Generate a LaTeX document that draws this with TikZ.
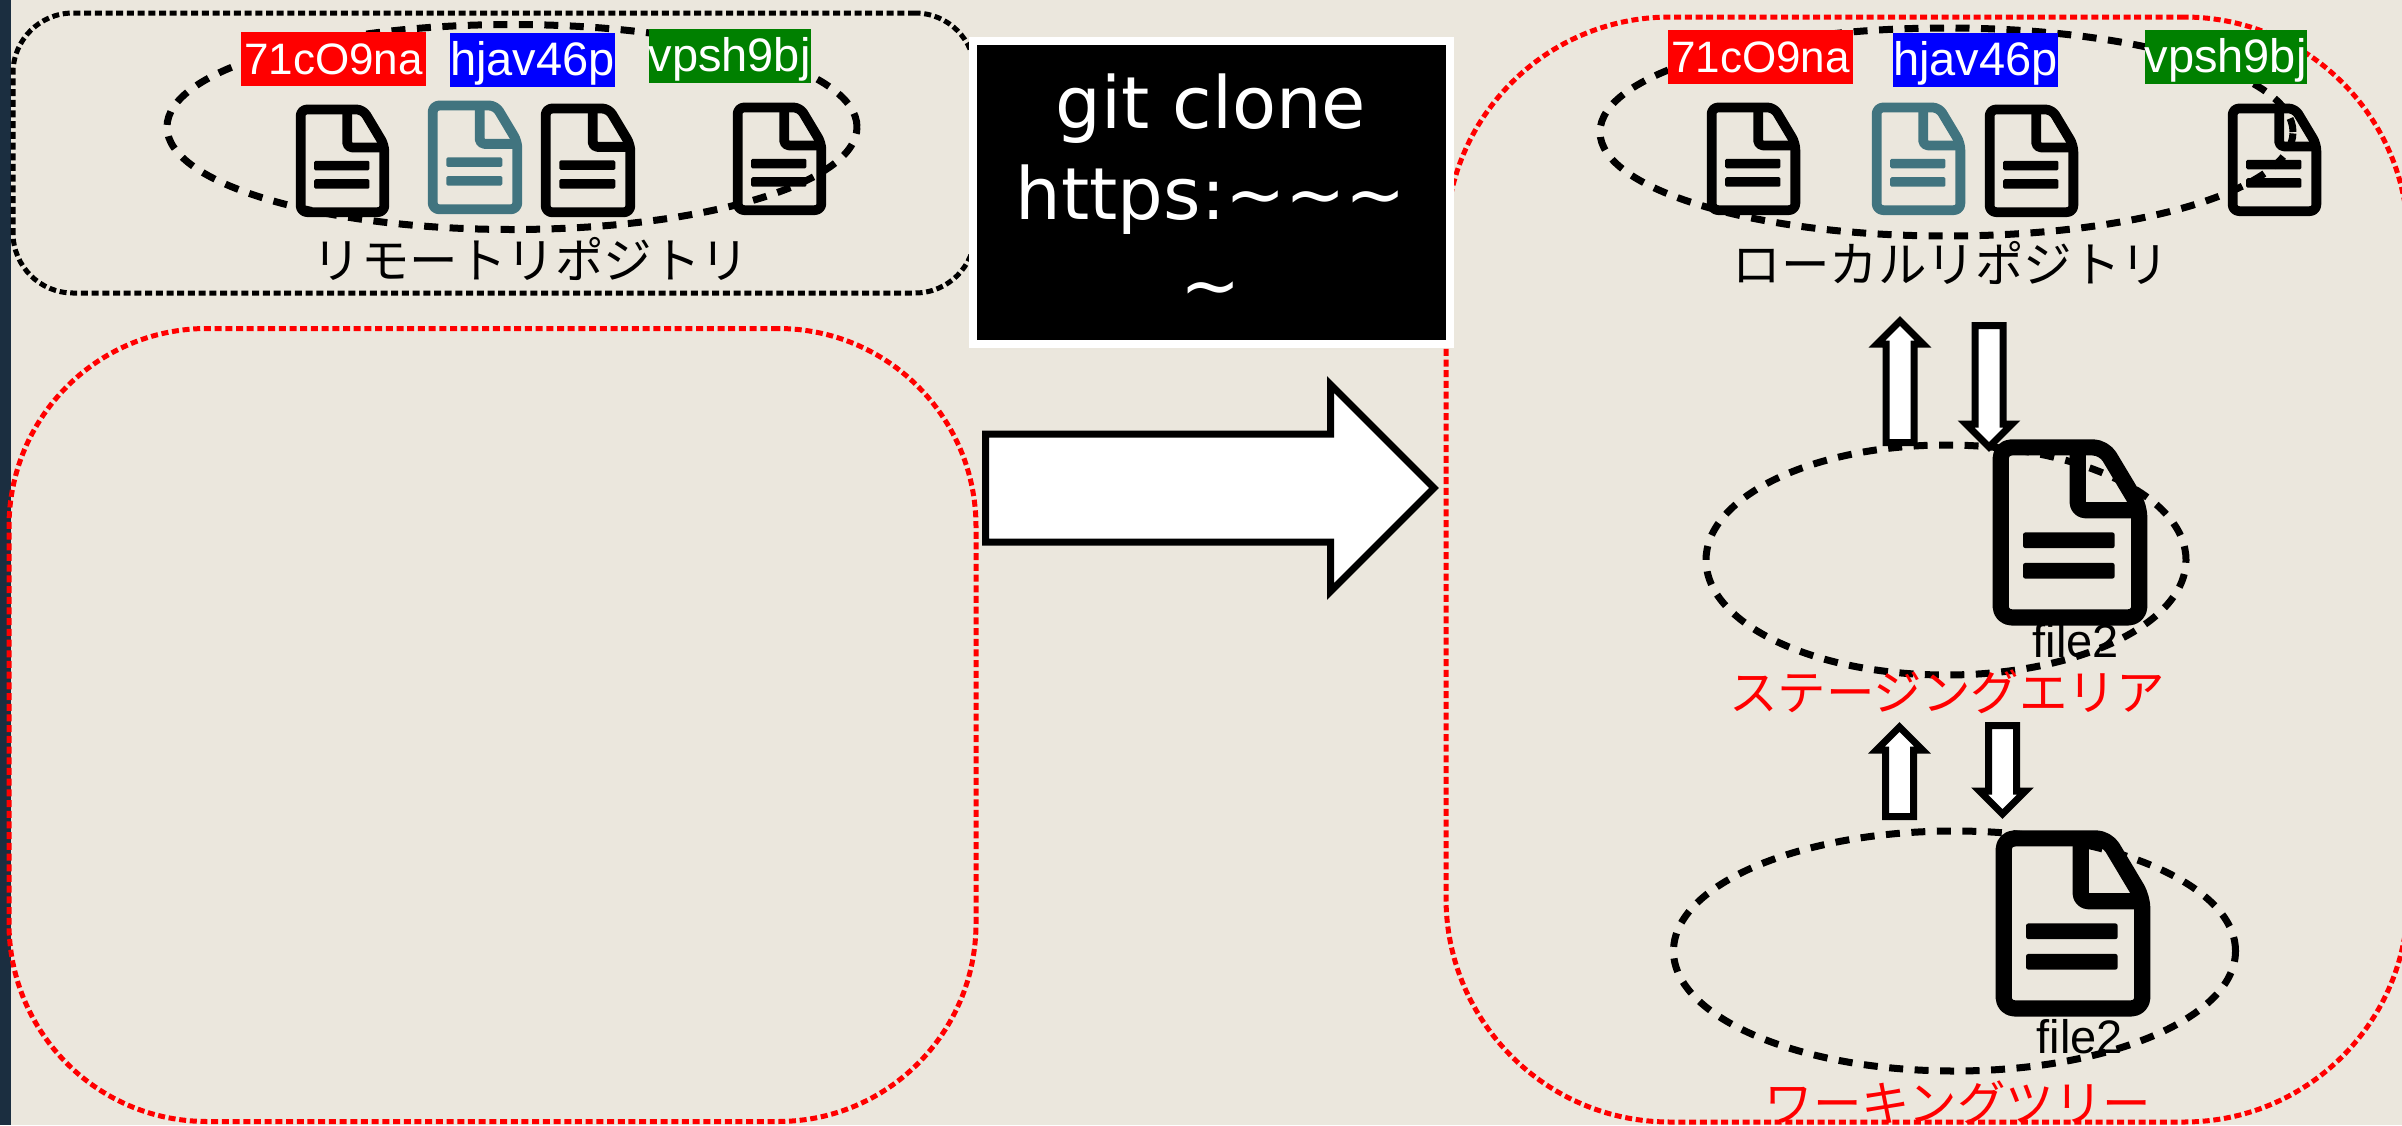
\documentclass[tikz,border=0pt]{standalone}
\usepackage{fontspec}
\setmainfont{Liberation Sans}
\newfontfamily\jpfont{Noto Sans CJK JP}
\newfontfamily\termfont{DejaVu Sans}
\usetikzlibrary{shapes.geometric,shapes.arrows}
\definecolor{paper}{HTML}{EBE7DD}
\definecolor{sidebar}{HTML}{1B2E40}
\definecolor{tealfile}{HTML}{41747F}
\definecolor{taggreen}{HTML}{008000}

\tikzset{
  pics/file_icon/.style n args={2}{code={
    \begin{scope}[x=#1pt, y=1.2*#1pt, yscale=-1, draw=#2, fill=#2, line join=round]
      \draw[line width=0.105*#1pt, rounded corners=0.07*#1pt] (0.05,0.04) -- (0.72,0.04) -- (0.95,0.36) -- (0.95,0.96) -- (0.05,0.96) -- cycle;
      \draw[line width=0.105*#1pt, rounded corners=0.05*#1pt] (0.55,0.04) -- (0.55,0.38) -- (0.95,0.38);
      \fill[rounded corners=0.015*#1pt] (0.195,0.5) rectangle (0.79,0.585);
      \fill[rounded corners=0.015*#1pt] (0.195,0.665) rectangle (0.79,0.75);
    \end{scope}
  }}
}

\begin{document}
\begin{tikzpicture}[x=1pt, y=-1pt]
  % Define styles
  \tikzstyle{box_black} = [rectangle, draw=black, line width=5pt, dash pattern=on 7pt off 3.7pt, rounded corners=60pt, inner sep=0pt]
  \tikzstyle{box_red} = [rectangle, draw=red, line width=5pt, dash pattern=on 7pt off 3.7pt, rounded corners=198pt, inner sep=0pt]
  \tikzstyle{group_ellipse} = [ellipse, draw=black, line width=7pt, dash pattern=on 14pt off 11.5pt, inner sep=0pt]
  \tikzstyle{tag} = [font=\fontsize{47}{56}\selectfont, text=white, inner sep=0pt, text height=42pt, text depth=12pt, text centered]
  \tikzstyle{hash_tag} = [tag, font=\fontsize{44}{56}\selectfont, fill=red, minimum width=185pt]
  \tikzstyle{area_label} = [font=\jpfont\fontsize{48.5}{56}\selectfont, inner sep=0pt]
  \tikzstyle{file_label} = [font=\fontsize{47}{56}\selectfont, inner sep=0pt, anchor=base]
  \tikzstyle{fat_arrow} = [single arrow, draw=black, fill=white, line width=7pt, outer sep=0pt, inner sep=10.5pt, minimum width=39pt, single arrow head extend=9pt, anchor=tail]

  % Page
  \useasboundingbox (0,0) rectangle (2402,1125);
  \fill[paper] (0,0) rectangle (2402,1125);
  \fill[sidebar] (0,0) rectangle (11,1125);

  % Frames
  \node [box_black, minimum width=962pt, minimum height=280pt] (remote_frame) at (494,153) {};
  \node [box_red, minimum width=967pt, minimum height=793pt] (left_frame) at (492.5,725) {};
  \node [box_red, rounded corners=224pt, minimum width=962pt, minimum height=1105pt] (local_frame) at (1927,569.5) {};

  % Remote repository
  \node [group_ellipse, minimum width=690pt, minimum height=205pt] (remote_ellipse) at (512,127) {};
  \pic (remote_file_a) at (296,105) {file_icon={93}{black}};
  \pic (remote_file_b) at (428,101) {file_icon={94}{tealfile}};
  \pic (remote_file_c) at (541,104) {file_icon={94}{black}};
  \pic (remote_file_d) at (733,103) {file_icon={93}{black}};
  \node [hash_tag] (remote_tag_a) at (333.5,59) {71cO9na};
  \node [tag, fill=blue, minimum width=165pt] (remote_tag_b) at (532.5,60) {hjav46p};
  \node [tag, fill=taggreen, minimum width=161pt] (remote_tag_c) at (729.5,56) {vpsh9bj};
  \node [area_label] (remote_label) at (531,259) {リモートリポジトリ};

  % Local repository
  \node [group_ellipse, minimum width=693pt, minimum height=208pt] (local_ellipse) at (1946.5,132) {};
  \pic (local_file_a) at (1707,103) {file_icon={93}{black}};
  \pic (local_file_b) at (1872,103) {file_icon={93}{tealfile}};
  \pic (local_file_c) at (1985,105) {file_icon={93}{black}};
  \pic (local_file_d) at (2228,104) {file_icon={93}{black}};
  \node [hash_tag] (local_tag_a) at (1760.5,57) {71cO9na};
  \node [tag, fill=blue, minimum width=165pt] (local_tag_b) at (1975.5,60) {hjav46p};
  \node [tag, fill=taggreen, minimum width=161pt] (local_tag_c) at (2225.5,57) {vpsh9bj};
  \node [area_label] (local_label) at (1951,263) {ローカルリポジトリ};

  % Staging area
  \node [group_ellipse, minimum width=480pt, minimum height=230pt] (stage_ellipse) at (1946,560) {};
  \pic (stage_file) at (1993,440) {file_icon={154}{black}};
  \node [file_label] (stage_file_label) at (2076,657) {file2};
  \node [area_label, text=red] (stage_label) at (1947,692) {ステージングエリア};

  % Working tree
  \node [group_ellipse, minimum width=562pt, minimum height=240pt] (work_ellipse) at (1954.5,951) {};
  \pic (work_file) at (1996,831) {file_icon={154}{black}};
  \node [file_label] (work_file_label) at (2080,1053) {file2};
  \node [area_label, text=red] (work_label) at (1958,1103) {ワーキングツリー};

  % Command
  \node [rectangle, draw=white, fill=black, line width=8pt, minimum width=477pt, minimum height=303pt, inner sep=0pt, text=white, align=center, font=\termfont\fontsize{72}{91}\selectfont] (clone_cmd) at (1211,192.5) {git clone\\https:\textasciitilde\textasciitilde\textasciitilde\\\textasciitilde};

  % Arrows
  \node [fat_arrow, inner sep=50.5pt, minimum width=200pt, minimum height=448.5pt, single arrow head extend=49.5pt] (clone_arrow) at (985.5,488) {};
  \node [fat_arrow, rotate=90, minimum height=121.5pt] (stage_to_local) at (1900,442.5) {};
  \node [fat_arrow, rotate=-90, minimum height=121.5pt] (local_to_stage) at (1989,325.5) {};
  \node [fat_arrow, rotate=90, minimum height=89.5pt] (work_to_stage) at (1899.5,816.5) {};
  \node [fat_arrow, rotate=-90, minimum height=88.5pt] (stage_to_work) at (2002.5,725.5) {};
\end{tikzpicture}
\end{document}
